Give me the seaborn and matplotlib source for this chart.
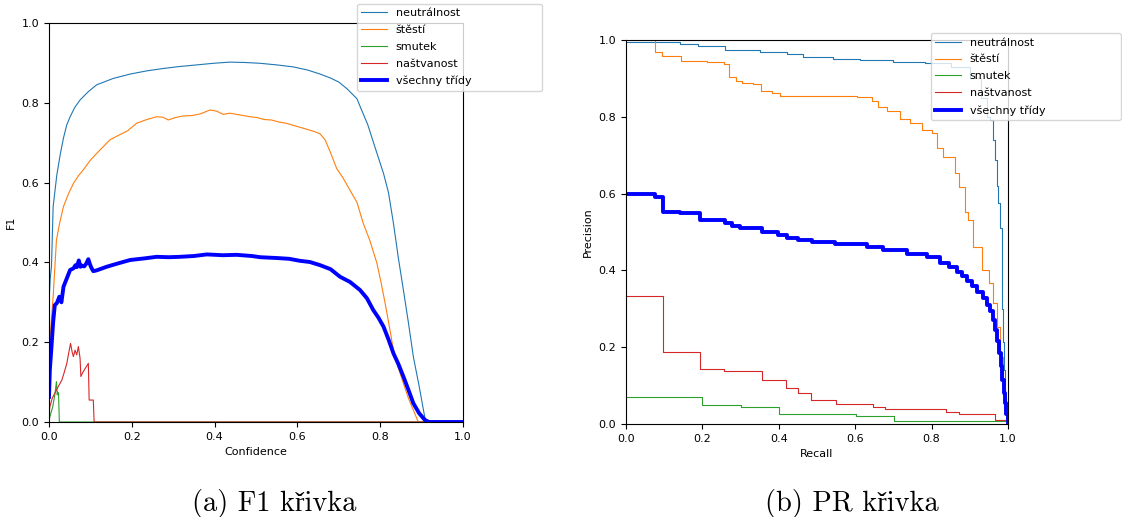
import matplotlib
matplotlib.use("Agg")
import matplotlib.pyplot as plt
import seaborn as sns

# ---- F1 vs. confidence ----
f1_neutral_conf = [0.000, 0.003, 0.006, 0.010, 0.019, 0.027, 0.035, 0.043, 0.051, 0.062,
                   0.075, 0.095, 0.115, 0.135, 0.155, 0.196, 0.236, 0.276, 0.316, 0.357,
                   0.397, 0.437, 0.474, 0.510, 0.550, 0.590, 0.625, 0.655, 0.680, 0.700,
                   0.720, 0.744, 0.751, 0.770, 0.787, 0.808, 0.820, 0.832, 0.844, 0.856,
                   0.868, 0.880, 0.894, 0.908, 0.915, 0.950, 1.000]
f1_neutral = [0.300, 0.360, 0.390, 0.540, 0.620, 0.670, 0.712, 0.745, 0.765, 0.788,
              0.807, 0.828, 0.845, 0.853, 0.861, 0.872, 0.880, 0.886, 0.891, 0.895,
              0.899, 0.902, 0.901, 0.899, 0.895, 0.890, 0.882, 0.872, 0.862, 0.852,
              0.835, 0.810, 0.792, 0.745, 0.690, 0.623, 0.575, 0.498, 0.410, 0.331,
              0.250, 0.164, 0.090, 0.010, 0.000, 0.000, 0.000]

f1_happy_conf = [0.000, 0.002, 0.006, 0.010, 0.018, 0.026, 0.035, 0.047, 0.059, 0.071,
                 0.083, 0.099, 0.115, 0.131, 0.147, 0.165, 0.190, 0.212, 0.236, 0.260,
                 0.275, 0.288, 0.305, 0.324, 0.345, 0.365, 0.389, 0.405, 0.421, 0.437,
                 0.453, 0.470, 0.486, 0.503, 0.520, 0.537, 0.555, 0.572, 0.595, 0.615,
                 0.641, 0.655, 0.667, 0.680, 0.695, 0.710, 0.727, 0.744, 0.759, 0.775,
                 0.792, 0.802, 0.812, 0.822, 0.832, 0.844, 0.856, 0.868, 0.880, 0.892,
                 0.950, 1.000]
f1_happy = [0.170, 0.200, 0.260, 0.314, 0.456, 0.500, 0.540, 0.572, 0.598, 0.617,
            0.632, 0.655, 0.673, 0.690, 0.707, 0.717, 0.730, 0.749, 0.758, 0.765,
            0.764, 0.757, 0.763, 0.767, 0.768, 0.772, 0.782, 0.779, 0.771, 0.774,
            0.771, 0.768, 0.765, 0.763, 0.758, 0.757, 0.752, 0.749, 0.742, 0.736,
            0.728, 0.722, 0.707, 0.675, 0.635, 0.612, 0.581, 0.550, 0.498, 0.455,
            0.398, 0.350, 0.297, 0.240, 0.180, 0.135, 0.097, 0.060, 0.030, 0.000,
            0.000, 0.000]

f1_sad_conf = [0.000, 0.002, 0.009, 0.014, 0.018, 0.020, 0.021, 0.023, 0.025, 1.000]
f1_sad = [0.000, 0.013, 0.038, 0.068, 0.101, 0.068, 0.075, 0.072, 0.000, 0.000]

f1_angry_conf = [0.000, 0.002, 0.008, 0.014, 0.022, 0.031, 0.037, 0.043, 0.048, 0.052,
                 0.056, 0.059, 0.063, 0.067, 0.071, 0.075, 0.077, 0.082, 0.088, 0.095,
                 0.097, 0.107, 0.109, 1.000]
f1_angry = [0.020, 0.038, 0.060, 0.072, 0.088, 0.105, 0.125, 0.147, 0.175, 0.197,
            0.175, 0.164, 0.180, 0.168, 0.189, 0.160, 0.114, 0.125, 0.135, 0.147,
            0.055, 0.055, 0.000, 0.000]

f1_all_conf = [0.000, 0.002, 0.006, 0.010, 0.014, 0.019, 0.025, 0.030, 0.035, 0.043,
               0.051, 0.059, 0.064, 0.067, 0.072, 0.076, 0.079, 0.085, 0.090, 0.095,
               0.099, 0.103, 0.107, 0.115, 0.139, 0.165, 0.196, 0.230, 0.260, 0.290,
               0.316, 0.350, 0.381, 0.420, 0.453, 0.490, 0.510, 0.550, 0.580, 0.606,
               0.630, 0.655, 0.680, 0.703, 0.727, 0.751, 0.768, 0.783, 0.796, 0.808,
               0.820, 0.832, 0.844, 0.856, 0.868, 0.880, 0.894, 0.908, 0.918, 0.950,
               1.000]
f1_all = [0.063, 0.130, 0.189, 0.250, 0.293, 0.298, 0.314, 0.300, 0.339, 0.360,
          0.381, 0.385, 0.393, 0.388, 0.405, 0.389, 0.392, 0.390, 0.397, 0.408,
          0.395, 0.385, 0.378, 0.380, 0.389, 0.397, 0.406, 0.410, 0.414, 0.413,
          0.414, 0.416, 0.420, 0.418, 0.419, 0.416, 0.413, 0.411, 0.409, 0.404,
          0.401, 0.393, 0.383, 0.364, 0.351, 0.331, 0.310, 0.281, 0.261, 0.239,
          0.207, 0.172, 0.145, 0.114, 0.081, 0.047, 0.022, 0.005, 0.000, 0.000,
          0.000]

# ---- precision vs. recall (step curves) ----
pr_neutral_rec = [0.000, 0.141, 0.188, 0.259, 0.351, 0.421, 0.464, 0.542, 0.613, 0.699,
                  0.783, 0.850, 0.900, 0.930, 0.945, 0.953, 0.960, 0.966, 0.971, 0.975,
                  0.979, 0.983, 0.985, 0.987, 0.990, 0.992, 0.996, 1.000]
pr_neutral = [0.995, 0.990, 0.985, 0.973, 0.969, 0.963, 0.956, 0.951, 0.948, 0.944,
              0.940, 0.930, 0.900, 0.850, 0.800, 0.792, 0.740, 0.688, 0.620, 0.575,
              0.510, 0.445, 0.300, 0.214, 0.140, 0.071, 0.030, 0.000]

pr_happy_rec = [0.000, 0.076, 0.093, 0.144, 0.211, 0.257, 0.270, 0.287, 0.303, 0.333,
                0.353, 0.381, 0.403, 0.605, 0.643, 0.660, 0.682, 0.717, 0.743, 0.774,
                0.800, 0.813, 0.831, 0.861, 0.873, 0.887, 0.896, 0.909, 0.931, 0.949,
                0.962, 0.971, 0.979, 0.986, 0.992, 1.000]
pr_happy = [1.000, 0.968, 0.959, 0.945, 0.943, 0.937, 0.903, 0.893, 0.889, 0.885,
            0.867, 0.863, 0.854, 0.851, 0.842, 0.825, 0.816, 0.793, 0.785, 0.766,
            0.757, 0.718, 0.696, 0.653, 0.618, 0.553, 0.531, 0.462, 0.401, 0.366,
            0.314, 0.253, 0.175, 0.097, 0.030, 0.000]

pr_sad_rec = [0.000, 0.200, 0.300, 0.401, 0.601, 0.702, 0.900, 1.000]
pr_sad = [0.070, 0.049, 0.043, 0.026, 0.021, 0.009, 0.008, 0.000]

pr_angry_rec = [0.000, 0.096, 0.194, 0.257, 0.355, 0.419, 0.451, 0.483, 0.549, 0.646,
                0.678, 0.839, 0.873, 0.966, 1.000]
pr_angry = [0.333, 0.188, 0.143, 0.138, 0.115, 0.095, 0.080, 0.063, 0.051, 0.045,
            0.038, 0.030, 0.025, 0.011, 0.000]

pr_all_rec = [0.000, 0.076, 0.098, 0.141, 0.194, 0.259, 0.277, 0.298, 0.355, 0.399,
              0.421, 0.451, 0.486, 0.547, 0.630, 0.674, 0.735, 0.787, 0.822, 0.845,
              0.866, 0.880, 0.892, 0.905, 0.918, 0.935, 0.945, 0.953, 0.960, 0.966,
              0.972, 0.977, 0.981, 0.985, 0.989, 0.992, 0.996, 1.000]
pr_all = [0.600, 0.592, 0.553, 0.549, 0.531, 0.524, 0.516, 0.510, 0.500, 0.492,
          0.485, 0.479, 0.475, 0.470, 0.462, 0.453, 0.444, 0.434, 0.420, 0.410,
          0.395, 0.385, 0.372, 0.360, 0.345, 0.328, 0.310, 0.295, 0.270, 0.245,
          0.215, 0.184, 0.150, 0.115, 0.080, 0.054, 0.025, 0.006]

class_names = ["neutrálnost", "štěstí", "smutek", "naštvanost", "všechny třídy"]
class_colors = ["#1f77b4", "#ff7f0e", "#2ca02c", "#d62728", "#0000ff"]
class_widths = [0.8, 0.8, 0.8, 0.8, 2.8]

f1_series = [(f1_neutral_conf, f1_neutral), (f1_happy_conf, f1_happy),
             (f1_sad_conf, f1_sad), (f1_angry_conf, f1_angry),
             (f1_all_conf, f1_all)]
pr_series = [(pr_neutral_rec, pr_neutral), (pr_happy_rec, pr_happy),
             (pr_sad_rec, pr_sad), (pr_angry_rec, pr_angry),
             (pr_all_rec, pr_all)]

plt.rcParams["font.family"] = ["DejaVu Sans"]
plt.rcParams["font.size"] = 8

fig = plt.figure(figsize=(11.22, 5.17), dpi=100)
ax_f1 = fig.add_axes([49 / 1122, 1 - 422 / 517, 414 / 1122, 399 / 517])
ax_pr = fig.add_axes([626 / 1122, 1 - 424 / 517, 382 / 1122, 384 / 517])

for (xs, ys), name, col, lw in zip(f1_series, class_names, class_colors, class_widths):
    sns.lineplot(x=xs, y=ys, ax=ax_f1, color=col, linewidth=lw, label=name,
                 estimator=None, sort=False)

for (xs, ys), name, col, lw in zip(pr_series, class_names, class_colors, class_widths):
    sns.lineplot(x=xs, y=ys, ax=ax_pr, color=col, linewidth=lw, label=name,
                 estimator=None, sort=False, drawstyle="steps-post")

for ax, xlabel, ylabel in [(ax_f1, "Confidence", "F1"), (ax_pr, "Recall", "Precision")]:
    ax.set_xlim(0, 1)
    ax.set_ylim(0, 1)
    ax.set_xlabel(xlabel, fontsize=8)
    ax.set_ylabel(ylabel, fontsize=8)
    ax.tick_params(labelsize=8)
    for s in ax.spines.values():
        s.set_linewidth(0.8)

legend_kw = dict(loc="upper left", borderaxespad=0, mode="expand", fontsize=8,
                 labelspacing=0.62, handlelength=2.3)
ax_f1.legend(bbox_to_anchor=(0.744, 1.048, 0.447, 0.0), **legend_kw)
ax_pr.legend(bbox_to_anchor=(0.798, 1.018, 0.497, 0.0), **legend_kw)

serif = ["cmr10", "Liberation Serif"]
fig.text(274 / 1122, 1 - 511 / 517, "(a) F1 křivka", ha="center", va="baseline",
         fontsize=20.5, family=serif)
fig.text(852 / 1122, 1 - 511 / 517, "(b) PR křivka", ha="center", va="baseline",
         fontsize=20.5, family=serif)

fig.savefig("out.png", dpi=100)
